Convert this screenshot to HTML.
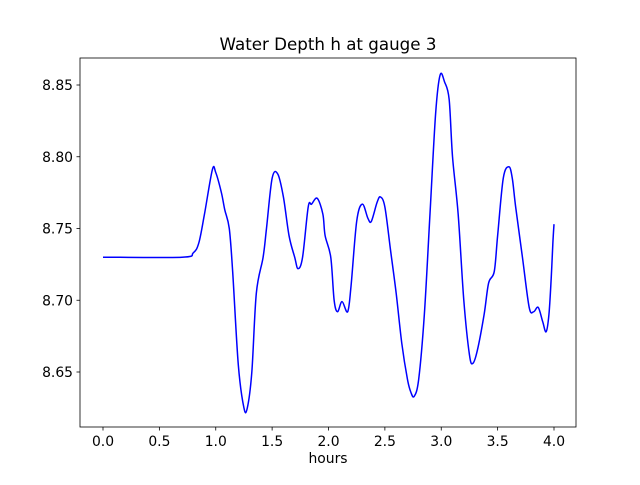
<!DOCTYPE html>
<html><head><meta charset="utf-8"><style>
body{margin:0;background:#fff}
svg text{font-family:"DejaVu Sans","Liberation Sans",sans-serif;fill:#000}
</style></head><body>
<svg id="chart" width="640" height="480" xmlns="http://www.w3.org/2000/svg">
<rect width="640" height="480" fill="#fff"/>
<text x="328" y="50" font-size="16.7" text-anchor="middle">Water Depth h at gauge 3</text>
<g id="axes"></g>
<text x="328" y="463" font-size="13.9" text-anchor="middle">hours</text>
</svg>
<script>
const xs=[0,0.7,0.8,0.85,0.9,0.97,1.0,1.05,1.08,1.12,1.15,1.2,1.25,1.28,1.32,1.36,1.42,1.45,1.5,1.55,1.6,1.65,1.7,1.73,1.77,1.82,1.85,1.9,1.95,1.97,2.02,2.05,2.08,2.12,2.17,2.2,2.25,2.3,2.35,2.38,2.43,2.46,2.5,2.55,2.6,2.65,2.7,2.73,2.76,2.8,2.85,2.9,2.95,2.99,3.03,3.07,3.1,3.15,3.2,3.25,3.28,3.32,3.38,3.42,3.47,3.5,3.55,3.6,3.63,3.66,3.72,3.78,3.82,3.86,3.9,3.93,3.955,3.975,3.99,4.0];
const ys=[8.730,8.730,8.733,8.740,8.760,8.791,8.789,8.775,8.763,8.750,8.720,8.655,8.625,8.625,8.650,8.705,8.730,8.750,8.785,8.788,8.772,8.745,8.730,8.722,8.730,8.765,8.767,8.771,8.760,8.745,8.730,8.700,8.692,8.699,8.692,8.710,8.755,8.767,8.757,8.755,8.768,8.772,8.765,8.735,8.705,8.670,8.645,8.636,8.633,8.645,8.690,8.760,8.830,8.857,8.852,8.840,8.800,8.760,8.700,8.662,8.656,8.665,8.690,8.712,8.720,8.745,8.785,8.793,8.785,8.765,8.730,8.695,8.692,8.695,8.685,8.678,8.690,8.715,8.740,8.753];
const xTicks=[0,0.5,1.0,1.5,2.0,2.5,3.0,3.5,4.0];
const yTicks=[8.65,8.70,8.75,8.80,8.85];
const L=80,R=576,T=58,B=427;
const X=v=>103+v*(554-103)/4;
const Y=v=>372-(v-8.65)*(372-85)/0.2;
const NS="http://www.w3.org/2000/svg";
const g=document.getElementById('axes');
function mk(t,a){const e=document.createElementNS(NS,t);for(const k in a)e.setAttribute(k,a[k]);g.appendChild(e);return e;}
let d="M"+X(xs[0])+","+Y(ys[0]);
for(let i=0;i<xs.length-1;i++){
 const p0=i>0?i-1:i,p3=i+2<xs.length?i+2:i+1;
 const x0=X(xs[p0]),y0=Y(ys[p0]),x1=X(xs[i]),y1=Y(ys[i]),x2=X(xs[i+1]),y2=Y(ys[i+1]),x3=X(xs[p3]),y3=Y(ys[p3]);
 d+=" C"+(x1+(x2-x0)/6)+","+(y1+(y2-y0)/6)+" "+(x2-(x3-x1)/6)+","+(y2-(y3-y1)/6)+" "+x2+","+y2;
}
const line=mk('path',{d:d,fill:'none',stroke:'#0000ff','stroke-width':1.5,'stroke-linejoin':'round'});


const fr=mk('rect',{x:L,y:T,width:R-L,height:B-T,fill:'none',stroke:'#000','stroke-width':0.8});


xTicks.forEach(v=>{
 mk('line',{x1:X(v),x2:X(v),y1:B,y2:B+3.5,stroke:'#000','stroke-width':0.8});
 const t=mk('text',{x:X(v),y:B+19,'font-size':13.9,'text-anchor':'middle'});
 t.textContent=v.toFixed(1);
 
 
});
yTicks.forEach(v=>{
 mk('line',{x1:L-3.5,x2:L,y1:Y(v),y2:Y(v),stroke:'#000','stroke-width':0.8});
 const t=mk('text',{x:L-7,y:Y(v)+5,'font-size':13.9,'text-anchor':'end'});
 t.textContent=v.toFixed(2);
 
 
});
</script>
</body></html>
